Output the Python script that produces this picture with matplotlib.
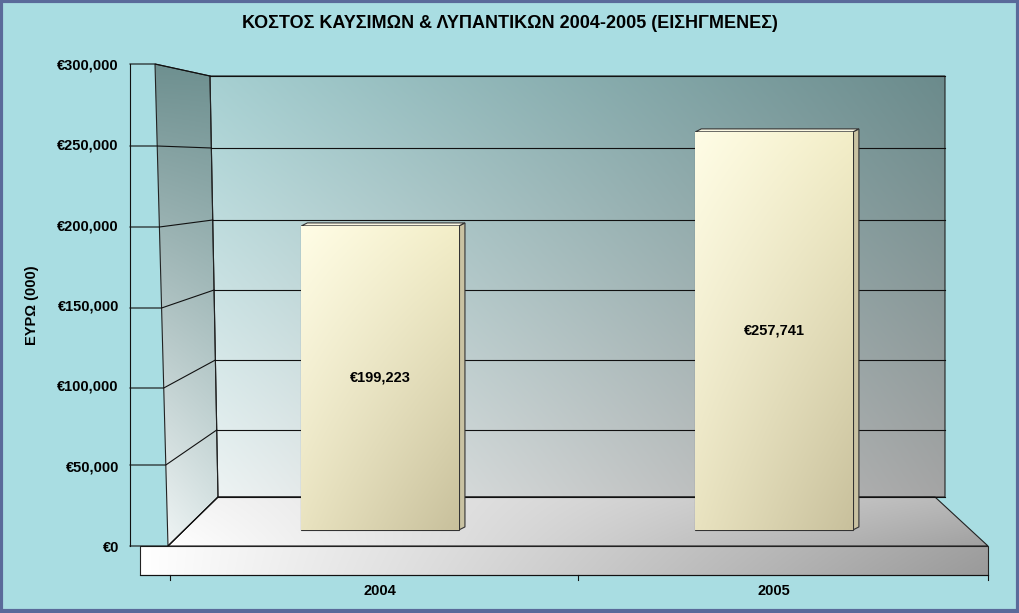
import numpy as np
import matplotlib.pyplot as plt
from matplotlib.patches import Polygon

plt.rcParams['font.family'] = ['Liberation Sans', 'DejaVu Sans']

years = ['2004', '2005']
values = [199223, 257741]
labels = ['€199,223', '€257,741']
yticks = [0, 50000, 100000, 150000, 200000, 250000, 300000]
title = 'ΚΟΣΤΟΣ ΚΑΥΣΙΜΩΝ & ΛΥΠΑΝΤΙΚΩΝ 2004-2005 (ΕΙΣΗΓΜΕΝΕΣ)'
ylabel = 'ΕΥΡΩ (000)'

W, H = 1020, 613
fig = plt.figure(figsize=(W / 100, H / 100), dpi=100)
fig.patch.set_facecolor('#a9dde2')

# pixel overlay for the 3d frame
bg = fig.add_axes([0, 0, 1, 1], zorder=0)
bg.set_xlim(0, W)
bg.set_ylim(H, 0)
bg.axis('off')


def rgb(h):
    h = h.lstrip('#')
    return np.array([int(h[i:i + 2], 16) / 255 for i in (0, 2, 4)])


def bilinear(tl, tr, bl, br, n=200):
    t = np.linspace(0, 1, n)[:, None, None]
    s = np.linspace(0, 1, n)[None, :, None]
    top = rgb(tl) * (1 - s) + rgb(tr) * s
    bot = rgb(bl) * (1 - s) + rgb(br) * s
    return top * (1 - t) + bot * t


def grad_poly(pts, tl, tr, bl, br, ax=bg, z=1):
    xs = [p[0] for p in pts]
    ys = [p[1] for p in pts]
    poly = Polygon(pts, closed=True, facecolor='none', edgecolor='#222222', lw=0.8, zorder=z + 0.1)
    ax.add_patch(poly)
    im = ax.imshow(bilinear(tl, tr, bl, br), extent=[min(xs), max(xs), max(ys), min(ys)],
                   aspect='auto', zorder=z, interpolation='bilinear')
    im.set_clip_path(poly)


# back wall
grad_poly([(210, 76), (945, 76), (945, 497), (218, 497)], '#a6d0d2', '#6b8b8c', '#eef4f4', '#a5a5a5')
# side wall
grad_poly([(155, 64), (210, 76), (218, 497), (168, 546)], '#6e9090', '#6e9090', '#f4f8f8', '#dde8e8')
# floor
grad_poly([(168, 546), (218, 497), (935, 497), (988, 546)], '#f6f6f6', '#b8b8b8', '#ffffff', '#a0a0a0')
grad_poly([(140, 546), (988, 546), (988, 575), (140, 575)], '#ffffff', '#a0a0a0', '#ffffff', '#9a9a9a')

front = [64, 146, 227, 308, 388, 465, 546]
back = [76, 148, 220, 290, 360, 430, 497]
for fy, by in zip(front, back):
    fx = 155 + (fy - 64) / 482 * 13
    bx = 210 + (by - 76) / 421 * 8
    bg.plot([130, fx, bx], [fy, fy, by], color='#111111', lw=0.8, zorder=2)
    bg.plot([bx, 945], [by, by], color='#111111', lw=0.8, zorder=2)
bg.plot([130, 130], [64, 546], color='#111111', lw=0.8, zorder=2)
bg.plot([140, 988], [575, 575], color='#111111', lw=0.8, zorder=2)
for x in [170, 578, 988]:
    bg.plot([x, x], [575, 580], color='#111111', lw=0.8, zorder=2)
bg.add_patch(plt.Rectangle((1, 1), W - 3, H - 3, fill=False, edgecolor='#5a6a9a', lw=3, zorder=5))

# data axes
ax = fig.add_axes([130 / W, 1 - 546 / H, 860 / W, 482 / H], zorder=1)
ax.patch.set_alpha(0)
for s in ax.spines.values():
    s.set_visible(False)
xpos = np.arange(len(years))
xlim = (-0.635, 1.548)
ylim = (0, 300000)
base = 10000
bars = ax.bar(xpos, [v - base for v in values], bottom=base, width=0.40,
              color='#f3eecb', edgecolor='#333333', lw=0.8, zorder=3)
for b in bars:
    im = ax.imshow(bilinear('#fffde6', '#f3eec8', '#e9e3c0', '#c8c09c'),
                   extent=[b.get_x(), b.get_x() + b.get_width(), b.get_y(), b.get_y() + b.get_height()],
                   aspect='auto', zorder=3.05, interpolation='bilinear')
    im.set_clip_path(b)
ax.set_xlim(*xlim)
ax.set_ylim(*ylim)

# bar depth faces in pixel space
to_px = lambda x, y: bg.transData.inverted().transform(ax.transData.transform((x, y)))
for b in bars:
    x0, x1 = b.get_x(), b.get_x() + b.get_width()
    (lx, ty), (rx, by_) = to_px(x0, b.get_y() + b.get_height()), to_px(x1, b.get_y())
    d = 6
    bg.add_patch(Polygon([(rx, ty), (rx + d, ty - 3), (rx + d, by_ - 3), (rx, by_)],
                         facecolor='#c9c2a2', edgecolor='#333333', lw=0.8, zorder=3))
    bg.add_patch(Polygon([(lx, ty), (lx + d, ty - 3), (rx + d, ty - 3), (rx, ty)],
                         facecolor='#fbf8e4', edgecolor='#333333', lw=0.8, zorder=3))

for x, v, lab in zip(xpos, values, labels):
    ax.text(x, base + (v - base) * 0.5, lab, ha='center', va='center',
            fontsize=10.5, fontweight='bold', zorder=4)

ax.set_yticks(yticks)
ax.set_yticklabels(['€{:,}'.format(t) for t in yticks], fontsize=10.5, fontweight='bold')
ax.tick_params(axis='y', length=0, pad=8)
ax.set_xticks([])
for x, yr in zip(xpos, years):
    px = to_px(x, 0)[0]
    bg.text(px, 591, yr, ha='center', va='center', fontsize=10.5, fontweight='bold', zorder=4)

fig.text(0.5, 1 - 23 / H, title, ha='center', va='center', fontsize=13, fontweight='bold')
fig.text(32 / W, 1 - 305 / H, ylabel, rotation=90, ha='center', va='center',
         fontsize=10.5, fontweight='bold')

fig.savefig('out.png', dpi=100, facecolor=fig.get_facecolor())
